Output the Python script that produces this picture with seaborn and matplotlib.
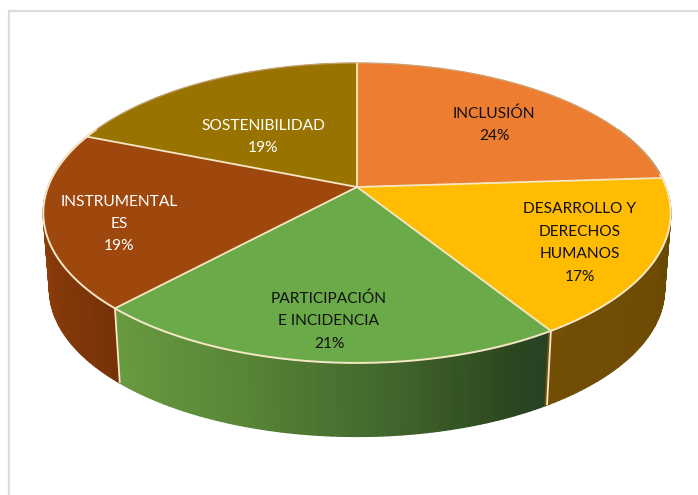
import numpy as np
import matplotlib
matplotlib.use("Agg")
import matplotlib.pyplot as plt
from matplotlib.collections import PolyCollection
from matplotlib.patches import Polygon
import seaborn as sns

# Slices, clockwise from twelve o'clock
categories = ["INCLUSIÓN", "DESARROLLO Y\nDERECHOS\nHUMANOS", "PARTICIPACIÓN\nE INCIDENCIA",
              "INSTRUMENTAL\nES", "SOSTENIBILIDAD"]
shares = [24, 17, 21, 19, 19]
top_colors = ["#ED7D31", "#FFBC00", "#6BAA48", "#9E480E", "#997300"]
text_colors = ["#111111", "#111111", "#111111", "white", "white"]
label_centers = [(494, 125), (580, 243), (329, 321), (119, 224), (263, 137)]

sns.set_theme(style="white")
plt.rcParams["font.family"] = ["Lato", "DejaVu Sans"]
palette = sns.color_palette(top_colors)

# Projection of the tilted disc onto the page, in pixel units
CX, CY, R, H, K = 357.0, 187.0, 309.0, 145.5, 0.173
DROP, SHRINK = 77.0, 0.98
RIM = "#F6E8C6"

cuts = 90 - 3.6 * np.concatenate([[0], np.cumsum(shares)])
seam_green_right, seam_green_left = cuts[2], cuts[3]


def project(phi, bottom=False):
    """Page position of a rim point at angle phi (degrees, counter-clockwise from east)."""
    x, y = np.cos(np.radians(phi)), np.sin(np.radians(phi))
    d = 1 + K * y
    px, py = R * x / d, -H * y / d
    if bottom:
        return CX + SHRINK * px, CY + DROP + SHRINK * py
    return CX + px, CY + py


def side_shade(phi):
    """Side wall colour as a function of rim angle, one ramp per visible slice."""
    if phi < seam_green_left:
        stops, rgb = [-205, seam_green_left], [[165, 75, 15], [120, 50, 8]]
    elif phi < seam_green_right:
        stops = [seam_green_left, -110, -85, -65, seam_green_right]
        rgb = [[105, 155, 65], [90, 136, 56], [66, 102, 44], [44, 70, 30], [38, 66, 38]]
    else:
        stops, rgb = [seam_green_right, -20, 25], [[115, 78, 5], [110, 75, 4], [92, 76, 0]]
    rgb = np.array(rgb) / 255
    return [np.interp(phi, stops, rgb[:, i]) for i in range(3)]


fig = plt.figure(figsize=(6.98, 4.95), dpi=100, facecolor="white")
ax = fig.add_axes([0, 0, 1, 1])
ax.set_xlim(0, 698)
ax.set_ylim(495, 0)
ax.axis("off")

# Frame along the left and top of the chart area
ax.plot([9, 9, 698], [495, 11, 11], color="#DCDCDC", lw=1.6, solid_joinstyle="miter")

# Side wall, as narrow strips around the front of the disc
edges = np.linspace(-205, 25, 231)
strips, shades = [], []
for a, b in zip(edges[:-1], edges[1:]):
    strips.append([project(a), project(b), project(b, True), project(a, True)])
    shades.append(side_shade((a + b) / 2))
ax.add_collection(PolyCollection(strips, facecolors=shades, edgecolors=shades, linewidths=1.0))

# Top face of each slice
for i, color in enumerate(palette):
    arc = np.linspace(cuts[i], cuts[i + 1], 200)
    rim = np.array([project(a) for a in arc])
    ax.add_patch(Polygon(np.vstack([[CX, CY], rim]), closed=True, facecolor=color,
                         edgecolor=color, lw=0.5))

# Soft tan edge along the back, pale highlight along the front
back = np.array([project(a) for a in np.linspace(0, 180, 300)])
ax.plot(back[:, 0], back[:, 1], color="#C9A77C", lw=1.0, alpha=0.8)
front = np.array([project(a) for a in np.linspace(-205, 5, 400)])
ax.plot(front[:, 0], front[:, 1], color=RIM, lw=1.4)

# Seams between the slices and down the visible wall
for cut in cuts[:-1]:
    px, py = project(cut)
    ax.plot([CX, px], [CY, py], color=RIM, lw=1.3, solid_capstyle="butt")
    if np.sin(np.radians(cut)) < -0.5:
        qx, qy = project(cut, True)
        ax.plot([px, qx], [py, qy], color=RIM, lw=1.3, solid_capstyle="butt")

# Category name and share on each slice
for name, share, color, (tx, ty) in zip(categories, shares, text_colors, label_centers):
    ax.text(tx, ty, f"{name}\n{share}%", ha="center", va="center", color=color,
            fontsize=11.2, linespacing=1.76)

fig.savefig("out.png", dpi=100, facecolor="white")
